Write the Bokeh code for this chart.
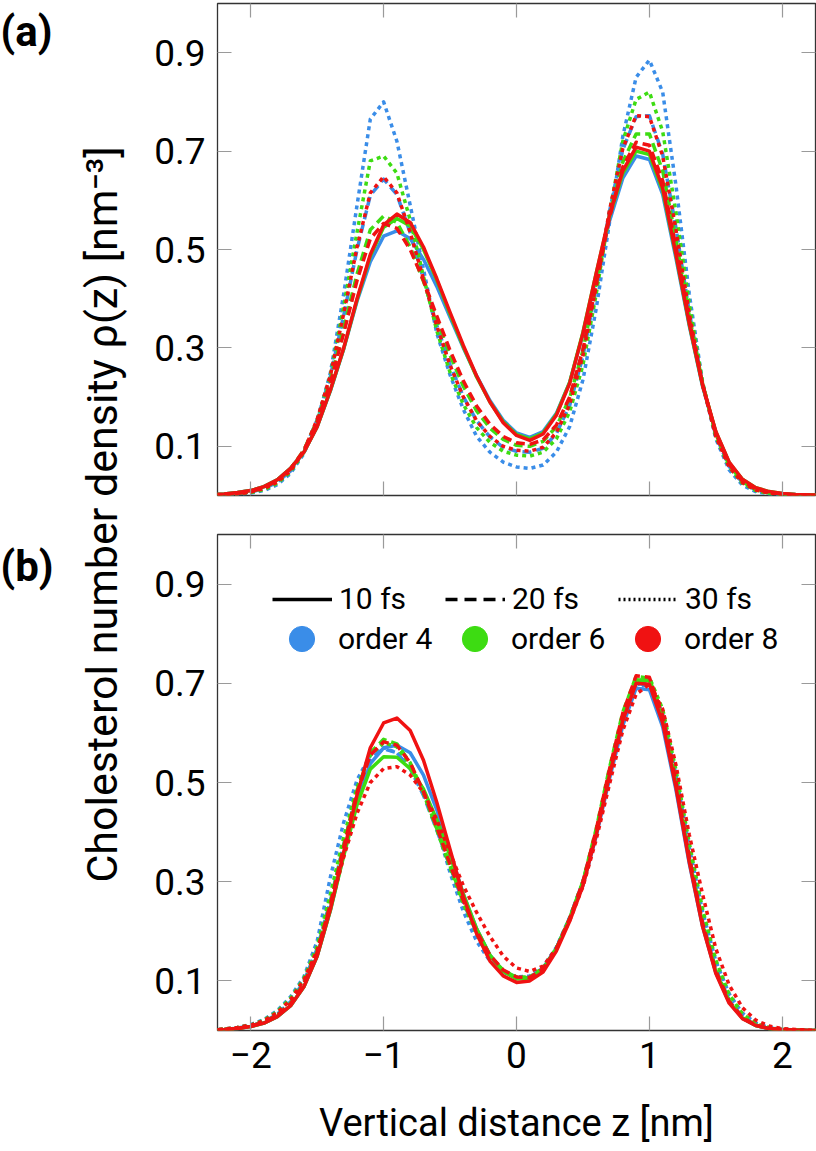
import math
from bokeh.plotting import figure
from bokeh.models import Range1d, FixedTicker, LinearAxis, Legend, LegendItem, Label
from bokeh.layouts import row, column
from bokeh.embed import file_html
from bokeh.resources import INLINE

FONT = "Roboto"
NAN = float("nan")

# vertical distance grid z [nm]
Z = [-2.3, -2.2, -2.1, -2.0, -1.9, -1.8, -1.7, -1.6, -1.5, -1.4, -1.3, -1.2, -1.1, -1.0,
     -0.9, -0.8, -0.7, -0.6, -0.5, -0.4, -0.3, -0.2, -0.1, 0.0, 0.1, 0.2, 0.3, 0.4, 0.5,
     0.6, 0.7, 0.8, 0.9, 1.0, 1.1, 1.2, 1.3, 1.4, 1.5, 1.6, 1.7, 1.8, 1.9, 2.0, 2.1, 2.2, 2.3]

# ---------------- panel (a) ----------------
A_O4_10 = [0.002, 0.003, 0.006, 0.010, 0.018, 0.032, 0.055, 0.088, 0.140, 0.213, 0.298, 0.395, 0.475, 0.527, 0.538, 0.522, 0.480, 0.425, 0.362, 0.300, 0.243, 0.193, 0.153, 0.127, 0.118, 0.130, 0.167, 0.230, 0.328, 0.445, 0.558, 0.645, 0.690, 0.683, 0.612, 0.482, 0.345, 0.222, 0.128, 0.066, 0.032, 0.015, 0.007, 0.004, 0.002, 0.001, 0.001]
A_O6_10 = [0.002, 0.003, 0.006, 0.010, 0.018, 0.032, 0.055, 0.088, 0.140, 0.214, 0.299, 0.398, 0.487, 0.545, 0.563, 0.548, 0.500, 0.438, 0.368, 0.302, 0.241, 0.190, 0.150, 0.124, 0.115, 0.127, 0.165, 0.230, 0.332, 0.452, 0.567, 0.655, 0.700, 0.693, 0.620, 0.488, 0.348, 0.224, 0.129, 0.067, 0.033, 0.016, 0.008, 0.004, 0.002, 0.001, 0.001]
A_O8_10 = [0.002, 0.003, 0.006, 0.010, 0.018, 0.032, 0.055, 0.088, 0.140, 0.215, 0.300, 0.400, 0.490, 0.550, 0.572, 0.555, 0.505, 0.441, 0.372, 0.305, 0.243, 0.190, 0.148, 0.122, 0.112, 0.125, 0.163, 0.228, 0.330, 0.452, 0.570, 0.660, 0.708, 0.700, 0.625, 0.490, 0.350, 0.225, 0.130, 0.068, 0.033, 0.016, 0.008, 0.004, 0.002, 0.001, 0.001]
A_O4_20 = [0.000, 0.001, 0.003, 0.007, 0.014, 0.027, 0.050, 0.090, 0.154, 0.243, 0.366, 0.500, 0.610, 0.643, 0.612, 0.534, 0.440, 0.346, 0.266, 0.201, 0.152, 0.119, 0.098, 0.090, 0.088, 0.096, 0.126, 0.183, 0.283, 0.423, 0.578, 0.703, 0.770, 0.772, 0.694, 0.544, 0.373, 0.227, 0.121, 0.059, 0.026, 0.011, 0.005, 0.002, 0.001, 0.000, 0.000]
A_O6_20 = [0.001, 0.002, 0.004, 0.008, 0.016, 0.030, 0.054, 0.092, 0.152, 0.235, 0.340, 0.450, 0.540, 0.568, 0.555, 0.505, 0.435, 0.358, 0.285, 0.222, 0.172, 0.137, 0.114, 0.102, 0.100, 0.110, 0.140, 0.198, 0.295, 0.430, 0.570, 0.678, 0.735, 0.735, 0.660, 0.520, 0.365, 0.228, 0.125, 0.062, 0.028, 0.012, 0.005, 0.002, 0.001, 0.001, 0.000]
A_O8_20 = [0.001, 0.002, 0.004, 0.008, 0.016, 0.030, 0.054, 0.092, 0.150, 0.230, 0.330, 0.437, 0.522, 0.553, 0.543, 0.500, 0.437, 0.365, 0.295, 0.233, 0.182, 0.145, 0.120, 0.107, 0.104, 0.113, 0.143, 0.200, 0.297, 0.430, 0.565, 0.668, 0.718, 0.712, 0.640, 0.505, 0.358, 0.226, 0.126, 0.063, 0.029, 0.013, 0.006, 0.003, 0.001, 0.001, 0.000]
A_O4_30 = [0.000, 0.001, 0.002, 0.005, 0.010, 0.022, 0.045, 0.085, 0.150, 0.250, 0.410, 0.590, 0.765, 0.800, 0.720, 0.590, 0.460, 0.330, 0.245, 0.175, 0.120, 0.088, 0.068, 0.058, 0.055, 0.062, 0.088, 0.140, 0.235, 0.380, 0.555, 0.730, 0.850, 0.885, 0.820, 0.630, 0.410, 0.230, 0.115, 0.052, 0.021, 0.008, 0.003, 0.001, 0.000, 0.000, 0.000]
A_O6_30 = [0.000, 0.001, 0.003, 0.006, 0.012, 0.025, 0.048, 0.088, 0.152, 0.245, 0.385, 0.535, 0.680, 0.690, 0.655, 0.560, 0.445, 0.335, 0.250, 0.185, 0.138, 0.108, 0.090, 0.082, 0.080, 0.088, 0.115, 0.170, 0.265, 0.410, 0.575, 0.720, 0.805, 0.820, 0.740, 0.575, 0.390, 0.230, 0.120, 0.058, 0.025, 0.010, 0.004, 0.002, 0.001, 0.000, 0.000]
A_O8_30 = [0.000, 0.001, 0.003, 0.007, 0.014, 0.027, 0.050, 0.090, 0.155, 0.245, 0.370, 0.505, 0.615, 0.648, 0.615, 0.535, 0.440, 0.345, 0.265, 0.200, 0.152, 0.120, 0.100, 0.092, 0.090, 0.098, 0.128, 0.185, 0.285, 0.425, 0.580, 0.705, 0.772, 0.770, 0.690, 0.540, 0.370, 0.225, 0.120, 0.058, 0.026, 0.011, 0.005, 0.002, 0.001, 0.000, 0.000]

# ---------------- panel (b) ----------------
B_O4_10 = [0.001, 0.002, 0.004, 0.008, 0.015, 0.028, 0.050, 0.088, 0.150, 0.243, 0.355, 0.460, 0.538, 0.570, 0.575, 0.560, 0.515, 0.445, 0.360, 0.275, 0.205, 0.152, 0.120, 0.106, 0.107, 0.126, 0.166, 0.224, 0.293, 0.392, 0.508, 0.615, 0.690, 0.687, 0.612, 0.485, 0.337, 0.210, 0.117, 0.057, 0.025, 0.010, 0.004, 0.002, 0.001, 0.000, 0.000]
B_O6_10 = [0.001, 0.002, 0.004, 0.008, 0.015, 0.028, 0.050, 0.088, 0.150, 0.243, 0.352, 0.455, 0.527, 0.552, 0.551, 0.528, 0.487, 0.425, 0.352, 0.275, 0.205, 0.152, 0.119, 0.104, 0.105, 0.124, 0.165, 0.225, 0.297, 0.400, 0.522, 0.632, 0.707, 0.705, 0.628, 0.496, 0.345, 0.213, 0.118, 0.058, 0.025, 0.010, 0.004, 0.002, 0.001, 0.000, 0.000]
B_O8_10 = [0.001, 0.002, 0.004, 0.008, 0.015, 0.028, 0.050, 0.088, 0.150, 0.245, 0.360, 0.475, 0.570, 0.620, 0.630, 0.605, 0.545, 0.460, 0.365, 0.270, 0.195, 0.140, 0.110, 0.097, 0.100, 0.118, 0.160, 0.220, 0.292, 0.395, 0.515, 0.625, 0.700, 0.698, 0.620, 0.490, 0.340, 0.210, 0.115, 0.055, 0.024, 0.010, 0.004, 0.002, 0.001, 0.000, 0.000]
B_O4_20 = [0.001, 0.002, 0.005, 0.009, 0.018, 0.033, 0.058, 0.099, 0.165, 0.262, 0.375, 0.480, 0.548, 0.568, 0.560, 0.528, 0.474, 0.404, 0.330, 0.258, 0.197, 0.150, 0.120, 0.107, 0.107, 0.125, 0.166, 0.227, 0.300, 0.402, 0.520, 0.628, 0.698, 0.700, 0.630, 0.502, 0.352, 0.220, 0.123, 0.061, 0.027, 0.011, 0.005, 0.002, 0.001, 0.000, 0.000]
B_O6_20 = [0.001, 0.002, 0.004, 0.009, 0.017, 0.031, 0.055, 0.095, 0.160, 0.258, 0.374, 0.484, 0.560, 0.587, 0.578, 0.540, 0.480, 0.407, 0.332, 0.260, 0.199, 0.151, 0.121, 0.107, 0.106, 0.123, 0.164, 0.226, 0.301, 0.407, 0.530, 0.642, 0.714, 0.710, 0.632, 0.500, 0.349, 0.217, 0.121, 0.060, 0.026, 0.011, 0.004, 0.002, 0.001, 0.000, 0.000]
B_O8_20 = [0.001, 0.002, 0.004, 0.009, 0.017, 0.031, 0.054, 0.094, 0.158, 0.255, 0.370, 0.480, 0.555, 0.582, 0.575, 0.540, 0.482, 0.410, 0.335, 0.262, 0.200, 0.152, 0.122, 0.108, 0.107, 0.124, 0.165, 0.226, 0.300, 0.405, 0.527, 0.640, 0.715, 0.712, 0.635, 0.502, 0.350, 0.217, 0.120, 0.059, 0.026, 0.011, 0.004, 0.002, 0.001, 0.000, 0.000]
B_O4_30 = [0.001, 0.003, 0.006, 0.012, 0.022, 0.040, 0.068, 0.108, 0.180, 0.310, 0.420, 0.505, 0.555, 0.570, 0.560, 0.530, 0.485, 0.410, 0.318, 0.240, 0.180, 0.140, 0.117, 0.108, 0.110, 0.128, 0.168, 0.228, 0.300, 0.398, 0.513, 0.620, 0.690, 0.700, 0.638, 0.515, 0.370, 0.240, 0.140, 0.074, 0.035, 0.015, 0.006, 0.003, 0.001, 0.000, 0.000]
B_O6_30 = [0.001, 0.003, 0.006, 0.011, 0.021, 0.038, 0.065, 0.105, 0.170, 0.275, 0.390, 0.490, 0.555, 0.580, 0.572, 0.535, 0.478, 0.405, 0.328, 0.255, 0.195, 0.150, 0.121, 0.108, 0.108, 0.126, 0.166, 0.226, 0.298, 0.400, 0.518, 0.628, 0.703, 0.712, 0.648, 0.525, 0.378, 0.245, 0.142, 0.073, 0.034, 0.014, 0.006, 0.002, 0.001, 0.000, 0.000]
B_O8_30 = [0.001, 0.003, 0.006, 0.011, 0.020, 0.036, 0.062, 0.102, 0.162, 0.250, 0.350, 0.438, 0.500, 0.528, 0.532, 0.515, 0.480, 0.425, 0.358, 0.292, 0.238, 0.190, 0.150, 0.126, 0.119, 0.130, 0.165, 0.222, 0.290, 0.385, 0.497, 0.605, 0.678, 0.698, 0.648, 0.535, 0.395, 0.275, 0.165, 0.092, 0.046, 0.021, 0.009, 0.004, 0.002, 0.001, 0.000]

ORDERS = ["order 4", "order 6", "order 8"]
STEPS = ["10 fs", "20 fs", "30 fs"]
COLORS = ["#3a8de8", "#3ddc12", "#f01212"]
DASHES = ["solid", "9 5", "4 4"]
X_TICKS = [-2, -1, 0, 1, 2]
X_LABELS = ["\u22122", "\u22121", "0", "1", "2"]
Y_TICKS = [0.1, 0.3, 0.5, 0.7, 0.9]
Y_LABELS = ["0.1", "0.3", "0.5", "0.7", "0.9"]

PANEL_A = [[A_O4_10, A_O4_20, A_O4_30], [A_O6_10, A_O6_20, A_O6_30], [A_O8_10, A_O8_20, A_O8_30]]
PANEL_B = [[B_O4_10, B_O4_20, B_O4_30], [B_O6_10, B_O6_20, B_O6_30], [B_O8_10, B_O8_20, B_O8_30]]


def make_panel(height, top, bottom, data, xlabels):
    p = figure(width=666, height=height, x_range=Range1d(-2.25, 2.25), y_range=Range1d(0, 1.0),
               output_backend="svg", toolbar_location=None, x_axis_type=None, y_axis_type=None,
               min_border_left=67, min_border_right=1, min_border_top=top, min_border_bottom=bottom)
    p.outline_line_color = "#333333"
    p.outline_line_width = 1.3
    p.background_fill_color = "white"
    p.border_fill_color = "white"
    for loc in ["below", "above", "left", "right"]:
        is_x = loc in ("below", "above")
        ticks, labs = (X_TICKS, X_LABELS) if is_x else (Y_TICKS, Y_LABELS)
        ax = LinearAxis(ticker=FixedTicker(ticks=ticks))
        ax.axis_line_color = None
        ax.major_tick_in = 14
        ax.major_tick_out = 0
        ax.major_tick_line_color = "#9a9a9a"
        ax.major_tick_line_width = 1.2
        ax.minor_tick_line_color = None
        show = (loc == "left") or (loc == "below" and xlabels)
        if show:
            ax.major_label_text_font = FONT
            ax.major_label_text_font_size = "37px"
            ax.major_label_text_color = "black"
            ax.major_label_standoff = 12 if loc == "left" else 11
            ax.major_label_overrides = {t: l for t, l in zip(ticks, labs)}
        else:
            ax.major_label_text_font_size = "2px"
            ax.major_label_standoff = 0
            ax.major_label_overrides = {t: "" for t in ticks}
        if loc == "below" and xlabels:
            ax.axis_label = "Vertical distance z [nm]"
            ax.axis_label_text_font = FONT
            ax.axis_label_text_font_size = "38px"
            ax.axis_label_text_font_style = "normal"
            ax.axis_label_text_color = "black"
            ax.axis_label_standoff = 30
        p.add_layout(ax, loc)
    # for each order: 30 fs, then 20 fs, then 10 fs (solid on top)
    for oi in range(3):
        for si in [2, 1, 0]:
            p.line(Z, data[oi][si], line_color=COLORS[oi], line_width=3.5,
                   line_dash=DASHES[si], line_join="round")
    return p


fa = make_panel(515, 3, 20, PANEL_A, False)
fb = make_panel(636, 19, 121, PANEL_B, True)

# legend (panel b): legend-only renderers hold a single NaN point, so they draw nothing in the plot
r10 = fb.line([NAN], [NAN], line_color="black", line_width=3.5)
r20 = fb.line([NAN], [NAN], line_color="black", line_width=3.5, line_dash="12 7")
r30 = fb.line([NAN], [NAN], line_color="black", line_width=3.5, line_dash="2 3")
leg1 = Legend(items=[LegendItem(label=STEPS[0], renderers=[r10]),
                     LegendItem(label=STEPS[1], renderers=[r20]),
                     LegendItem(label=STEPS[2], renderers=[r30])],
              orientation="horizontal", location=(55, 414), glyph_width=60, glyph_height=30,
              label_standoff=7, label_width=100, spacing=6, padding=0, margin=0,
              border_line_color=None, background_fill_alpha=0,
              label_text_font=FONT, label_text_font_size="30px", label_text_color="black")
cr = [fb.scatter([NAN], [NAN], marker="circle", fill_color=c, line_color=c) for c in COLORS]
leg2 = Legend(items=[LegendItem(label=ORDERS[i], renderers=[cr[i]]) for i in range(3)],
              orientation="horizontal", location=(53, 360), glyph_width=63, glyph_height=63,
              label_standoff=5, label_width=100, spacing=5, padding=0, margin=0,
              border_line_color=None, background_fill_alpha=0,
              label_text_font=FONT, label_text_font_size="30px", label_text_color="black")
fb.add_layout(leg1, "center")
fb.add_layout(leg2, "center")

# left strip with panel letters and the shared y-axis title
H = 1151
lab = figure(width=150, height=H, x_range=Range1d(0, 150), y_range=Range1d(0, H),
             output_backend="svg", toolbar_location=None, x_axis_type=None, y_axis_type=None,
             min_border=0, outline_line_color=None)
lab.add_layout(Label(x=0, y=H - 31, text="(a)", text_font=FONT, text_font_style="bold",
                     text_font_size="42px", text_color="black", text_align="left",
                     text_baseline="middle"))
lab.add_layout(Label(x=0, y=H - 566, text="(b)", text_font=FONT, text_font_style="bold",
                     text_font_size="42px", text_color="black", text_align="left",
                     text_baseline="middle"))
lab.add_layout(Label(x=101, y=H - 514, text="Cholesterol number density \u03c1(z) [nm\u207b\u00b3]",
                     angle=math.pi / 2, text_font=FONT, text_font_size="43px", text_color="black",
                     text_align="center", text_baseline="middle"))

layout = row(lab, column(fa, fb))
open("out.html", "w").write(file_html(layout, INLINE))
